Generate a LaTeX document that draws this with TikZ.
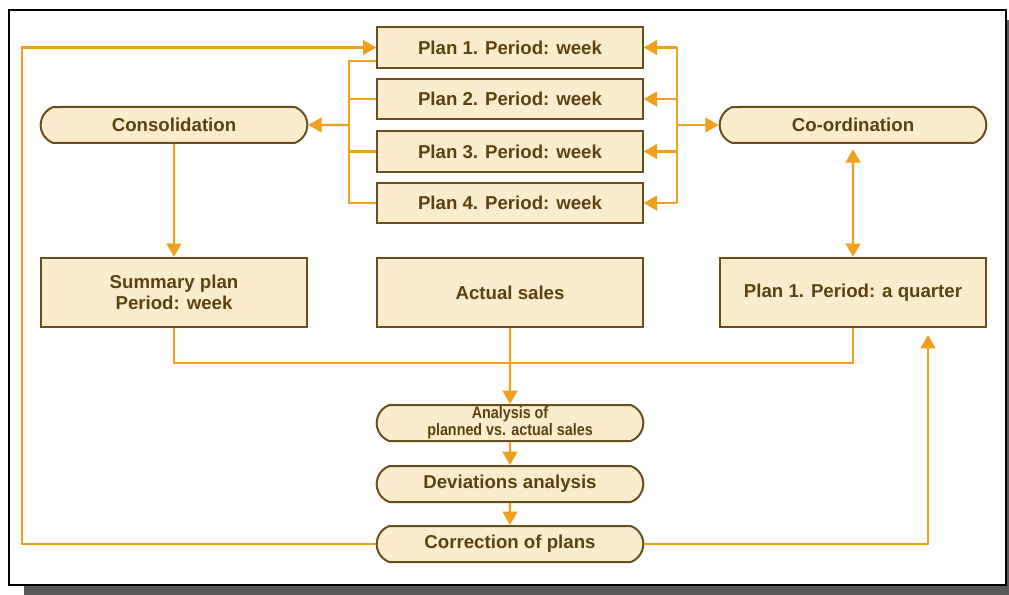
\documentclass[tikz,border=0pt]{standalone}
\usepackage{fontspec}
\setmainfont{Liberation Sans}
\newfontfamily\condfont[FakeStretch=0.86]{Liberation Sans}
\usetikzlibrary{arrows.meta,shapes.misc}

\definecolor{flowor}{RGB}{240,160,30}
\definecolor{boxfill}{RGB}{252,236,206}
\definecolor{boxline}{RGB}{105,78,30}
\definecolor{boxtext}{RGB}{92,66,18}

\tikzset{every picture/.style={line width=0.75pt}}
\tikzset{
  planbox/.style={draw=boxline,line width=1.5pt,fill=boxfill,text=boxtext,
    font=\fontsize{14}{16}\selectfont\bfseries,minimum width=199pt,minimum height=30.5pt,inner sep=0pt},
  bigbox/.style={planbox,minimum width=200pt,minimum height=52pt,align=center},
  capsule/.style={planbox,rounded rectangle,rounded rectangle arc length=140,minimum width=200pt,minimum height=27pt},
  flow/.style={draw=flowor,line width=1.8pt},
  arrow/.style={flow,-{Triangle[length=10pt,width=11pt]}},
  darrow/.style={flow,{Triangle[length=10pt,width=11pt]}-{Triangle[length=10pt,width=11pt]}}
}

\begin{document}
\begin{tikzpicture}[x=0.75pt,y=0.75pt,yscale=-1,xscale=1]
	\useasboundingbox (0,0) rectangle (1009,595);
	%frame with shadow
	\fill [gray!70!black] (24,20) rectangle (1009,595);
	\draw [fill=white,line width=1pt] (9,10) rectangle (1006,585);

	%weekly plans
	\node [planbox] (plan1) at (510,47.5) {Plan 1. Period: week};
	\node [planbox] (plan2) at (510,99) {Plan 2. Period: week};
	\node [planbox] (plan3) at (510,151.5) {Plan 3. Period: week};
	\node [planbox] (plan4) at (510,203) {Plan 4. Period: week};

	\node [capsule] (cons) at (174,125) {Consolidation};
	\node [capsule] (coord) at (853,125) {Co-ordination};

	\node [bigbox] (summ) at (174,292.5) {Summary plan\\Period: week};
	\node [bigbox] (actual) at (510,292.5) {Actual sales};
	\node [bigbox] (quarter) at (853,292.5) {Plan 1. Period: a quarter};

	\node [capsule,font=\condfont\fontsize{12.5}{11}\selectfont\bfseries,align=center] (anal) at (510,423) {Analysis of\\planned vs. actual sales};
	\node [capsule] (dev) at (510,484) {Deviations analysis};
	\node [capsule] (corr) at (510,544) {Correction of plans};

	\coordinate (lsplit) at (349,125);
	\coordinate (rsplit) at (677,125);
	\coordinate (merge) at (510,363);
	\coordinate (lret) at (22,47.5);
	\coordinate (rret) at (928,335);

	%left bracket
	\draw [flow] ([yshift=10pt]plan1.west) -| (lsplit) |- (plan4.west);
	\draw [flow] (plan2.west) -- (plan2.west -| lsplit);
	\draw [flow] (plan3.west) -- (plan3.west -| lsplit);
	\draw [arrow] (lsplit) -- (cons);
	%right bracket
	\draw [flow] (plan1.east -| rsplit) -- (plan4.east -| rsplit);
	\foreach \p in {plan1,plan2,plan3,plan4}
		\draw [arrow] (\p.east -| rsplit) -- (\p.east);
	\draw [arrow] (rsplit) -- (coord);
	\draw [darrow,shorten <=4pt] (coord) -- (quarter);

	\draw [arrow] (cons) -- (summ);
	\draw [flow] (summ.south) |- (merge) -| (quarter.south);
	\draw [arrow] (actual) -- (anal);
	\draw [arrow] (anal) -- (dev);
	\draw [arrow] (dev) -- (corr);

	%feedback
	\draw [arrow] (corr.west) -| (lret) -- (plan1.west);
	\draw [arrow] (corr.east) -| (rret);

\end{tikzpicture}
\end{document}
